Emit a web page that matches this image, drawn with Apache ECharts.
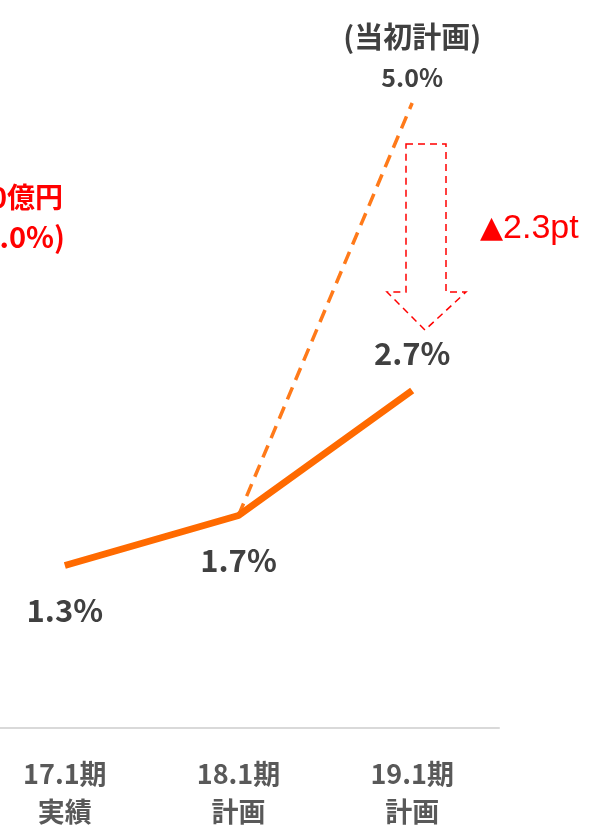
<!DOCTYPE html>
<html>
<head>
<meta charset="utf-8">
<script src="https://cdn.jsdelivr.net/npm/echarts@6/dist/echarts.min.js"></script>
<style>
  html, body { margin: 0; padding: 0; background: #fff; overflow: hidden; }
  #chart { width: 622px; height: 827px; margin-left: -22px; }
</style>
</head>
<body>
<div id="chart"></div>
<script>
// data
var categories = ['17.1期\n実績', '18.1期\n計画', '19.1期\n計画'];
var actualPlan = [1.3, 1.7, 2.7];        // 実績・修正計画
var originalPlan = [null, 1.7, 5.0];     // 当初計画
var gapText = '▲2.3pt';

var chart = echarts.init(document.getElementById('chart'));
var jp = '"Noto Sans CJK JP", "Noto Sans", sans-serif';
var darkGray = '#404040';
var red = '#FF0000';
// the canvas is shifted 22px left, graphic x values include that offset
var dx = 22;
var hidden = { color: 'rgba(0,0,0,0)', borderWidth: 0 };

var option = {
  animation: false,
  grid: { left: 0, right: 101, top: 28, bottom: 99, outerBoundsMode: 'none' },
  xAxis: {
    type: 'category',
    data: categories,
    axisLine: { lineStyle: { color: '#d9d9d9', width: 2 } },
    axisTick: { show: false },
    axisLabel: {
      margin: 27,
      color: '#595959',
      fontFamily: jp,
      fontWeight: 'bold',
      fontSize: 27,
      lineHeight: 38
    }
  },
  yAxis: {
    type: 'value',
    min: 0,
    max: 5.6,
    show: false,
    splitLine: { show: false }
  },
  series: [
    {
      name: '当初計画',
      type: 'line',
      data: originalPlan,
      symbol: 'circle',
      symbolSize: 2,
      itemStyle: hidden,
      z: 1,
      lineStyle: { color: '#FF7A1A', width: 3.5, type: [13, 8] },
      label: {
        show: true,
        position: 'top',
        distance: 5,
        formatter: function (p) {
          return p.dataIndex === 2 ? '{a|(当初計画)}\n{b|' + p.value.toFixed(1) + '%}' : '';
        },
        rich: {
          a: { color: darkGray, fontFamily: jp, fontWeight: 'bold', fontSize: 29, lineHeight: 40 },
          b: { color: darkGray, fontFamily: jp, fontWeight: 'bold', fontSize: 25, lineHeight: 40 }
        }
      }
    },
    {
      name: '実績',
      type: 'line',
      symbol: 'circle',
      symbolSize: 2,
      itemStyle: hidden,
      z: 2,
      lineStyle: { color: '#FF6A00', width: 7 },
      label: {
        show: true,
        color: darkGray,
        fontFamily: jp,
        fontWeight: 'bold',
        fontSize: 31,
        formatter: function (p) { return p.value.toFixed(1) + '%'; }
      },
      data: actualPlan.map(function (v, i) {
        return {
          value: v,
          label: i === 2
            ? { position: 'top', distance: 21 }
            : { position: 'bottom', distance: 28 }
        };
      })
    }
  ],
  graphic: [
    // gap arrow
    {
      type: 'polygon',
      x: dx,
      shape: {
        points: [[406, 144], [446, 144], [446, 292], [466, 292], [425, 330],
                 [387, 292], [406, 292]]
      },
      style: { fill: 'none', stroke: red, lineWidth: 1.5, lineDash: [7, 5] }
    },
    {
      type: 'text',
      x: 480 + dx,
      y: 229,
      style: {
        text: '{t|▲}' + gapText.slice(1),
        fill: red,
        verticalAlign: 'middle',
        font: '34px "Liberation Sans", Arial, sans-serif',
        rich: { t: { fill: red, font: '30px "DejaVu Sans", sans-serif' } }
      }
    },
    // partly cut red note on the left
    {
      type: 'text',
      x: 63 + dx,
      y: 197,
      style: {
        text: '100億円',
        align: 'right',
        verticalAlign: 'middle',
        fill: red,
        font: 'bold 28px ' + jp
      }
    },
    {
      type: 'text',
      x: 65 + dx,
      y: 237,
      style: {
        text: '(1.0%)',
        align: 'right',
        verticalAlign: 'middle',
        fill: red,
        font: 'bold 29px ' + jp
      }
    }
  ]
};

chart.setOption(option);
</script>
</body>
</html>
